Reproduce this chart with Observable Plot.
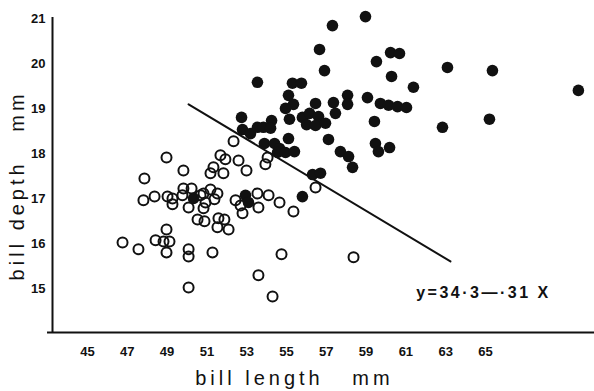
<!DOCTYPE html>
<html>
<head>
<meta charset="utf-8">
<script src="https://cdn.jsdelivr.net/npm/d3@7"></script>
<script src="https://cdn.jsdelivr.net/npm/@observablehq/plot@0.6"></script>
<style>
  html, body { margin: 0; padding: 0; background: #fff; }
  svg { display: block; }
</style>
</head>
<body>
<div id="chart"></div>
<script>
// Filled circles (bill length mm, bill depth mm)
const filledX = [58.97, 57.31, 56.66, 59.52, 60.23, 60.68, 56.91, 60.28, 53.54, 55.30,
  55.75, 55.10, 58.07, 59.07, 55.35, 54.95, 56.46, 57.36, 58.07, 59.72,
  60.13, 60.58, 61.03, 55.15, 55.80, 56.16, 56.01, 56.61, 57.46, 56.46,
  56.96, 59.42, 52.74, 54.25, 52.79, 53.19, 53.54, 53.84, 54.20, 55.10,
  53.89, 54.40, 54.65, 54.55, 54.95, 55.40, 57.11, 57.71, 58.12, 58.32,
  59.47, 59.62, 60.18, 56.31, 56.71, 55.80, 63.09, 65.35, 69.67, 61.38,
  62.84, 65.20, 50.33, 52.94, 53.09];
const filledY = [21.04, 20.84, 20.31, 20.04, 20.24, 20.22, 19.84, 19.71, 19.58, 19.56,
  19.56, 19.29, 19.29, 19.24, 19.09, 19.00, 19.11, 19.13, 19.09, 19.11,
  19.07, 19.04, 19.02, 18.76, 18.80, 18.89, 18.64, 18.82, 18.89, 18.62,
  18.67, 18.71, 18.80, 18.73, 18.53, 18.44, 18.58, 18.58, 18.56, 18.33,
  18.22, 18.22, 18.11, 18.02, 18.02, 18.04, 18.31, 18.04, 17.93, 17.69,
  18.22, 18.04, 18.13, 17.53, 17.56, 17.04, 19.91, 19.84, 19.40, 19.47,
  18.58, 18.76, 17.00, 17.07, 16.91];

// Open circles
const openX = [52.34, 51.68, 51.93, 52.59, 51.33, 51.18, 51.83, 52.99, 54.05, 53.94,
  56.46, 48.97, 49.82, 47.86, 47.81, 48.37, 49.02, 49.27, 49.27, 49.82,
  50.23, 49.77, 50.08, 50.68, 51.18, 51.38, 51.53, 50.83, 50.93, 50.83,
  50.53, 50.88, 51.58, 51.88, 52.09, 52.44, 52.69, 52.79, 53.54, 54.10,
  53.59, 54.65, 55.35, 48.97, 48.42, 48.82, 49.12, 48.97, 46.76, 47.56,
  50.08, 50.08, 50.08, 51.28, 54.75, 58.37, 53.59, 54.30, 51.53];
const openY = [18.27, 17.96, 17.87, 17.84, 17.69, 17.56, 17.56, 17.62, 17.91, 17.76,
  17.24, 17.91, 17.62, 17.44, 16.96, 17.04, 17.04, 17.00, 16.87, 17.22,
  17.22, 17.07, 16.80, 17.07, 17.20, 16.98, 17.11, 17.11, 16.91, 16.78,
  16.53, 16.49, 16.56, 16.53, 16.31, 16.96, 16.84, 16.67, 17.11, 17.07,
  16.80, 16.91, 16.71, 16.31, 16.07, 16.04, 16.04, 15.80, 16.02, 15.87,
  15.87, 15.71, 15.02, 15.80, 15.76, 15.69, 15.29, 14.82, 16.36];

// Fitted line endpoints as drawn
const lineX = [50.08, 63.24];
const lineY = [19.09, 15.60];

const xTicks = [45, 47, 49, 51, 53, 55, 57, 59, 61, 63, 65];
const yTicks = [15, 16, 17, 18, 19, 20, 21];

const xDomain = [43.24, 70.48];
const yDomain = [14.02, 21.02];

const xLabel = "bill length   mm";
const yLabel = "bill depth   mm";
const equation = "y=34·3—·31 X";

const filled = filledX.map((x, i) => ({x, y: filledY[i]}));
const open = openX.map((x, i) => ({x, y: openY[i]}));
const fit = lineX.map((x, i) => ({x, y: lineY[i]}));

const chart = Plot.plot({
  width: 594,
  height: 391,
  marginLeft: 52,
  marginRight: 0,
  marginTop: 17,
  marginBottom: 59,
  style: {background: "#fff", color: "#111", fontFamily: "Liberation Sans, Arial, sans-serif"},
  x: {domain: xDomain, label: null},
  y: {domain: yDomain, label: null},
  marks: [
    Plot.axisX({ticks: xTicks, tickSize: 0, tickPadding: 14, tickFormat: "d", fontSize: 13, fontWeight: "bold", label: null}),
    Plot.axisY({ticks: yTicks, tickSize: 0, tickPadding: 7, tickFormat: "d", fontSize: 13, fontWeight: "bold", label: null}),
    Plot.ruleX([xDomain[0]], {stroke: "#111", strokeWidth: 2}),
    Plot.ruleY([yDomain[0]], {x1: 42.99, x2: xDomain[1], stroke: "#111", strokeWidth: 2}),
    Plot.line(fit, {x: "x", y: "y", stroke: "#111", strokeWidth: 2}),
    Plot.dot(open, {x: "x", y: "y", r: 5, stroke: "#111", strokeWidth: 2, fill: "none"}),
    Plot.dot(filled, {x: "x", y: "y", r: 5.8, fill: "#111", stroke: "none"}),
    Plot.text([equation], {x: 64.9, y: 14.89, text: d => d, fontSize: 16, fontWeight: "bold", fill: "#111"}),
    Plot.text([xLabel], {x: 55.4, y: 13.0, text: d => d, fontSize: 20, fill: "#111"}),
    Plot.text([yLabel], {x: 41.48, y: 17.29, text: d => d, rotate: -90, fontSize: 20, fill: "#111"})
  ]
});
const sel = d3.select(chart);
sel.selectAll("text").filter(function() { return this.textContent === xLabel || this.textContent === yLabel; })
  .style("letter-spacing", "4px").style("white-space", "pre");
sel.selectAll("text").filter(function() { return this.textContent === equation; })
  .style("letter-spacing", "2.5px");
document.getElementById("chart").appendChild(chart);
</script>
</body>
</html>
